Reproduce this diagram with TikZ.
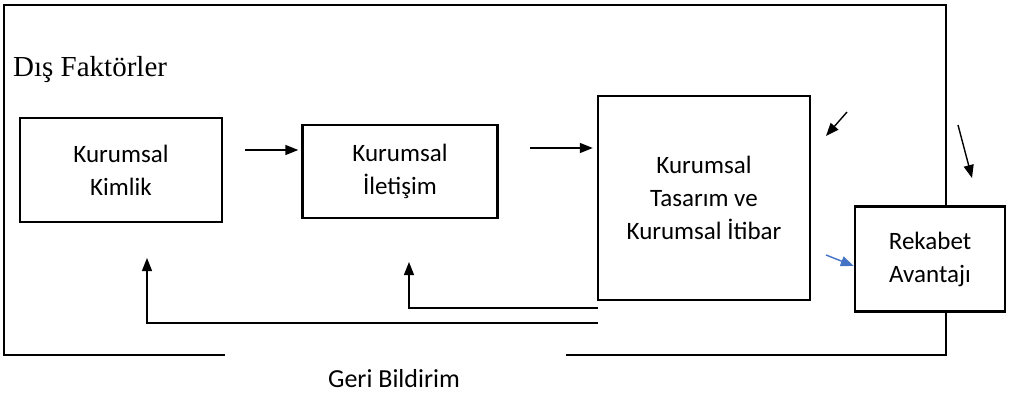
\documentclass[tikz,border=0pt]{standalone}
\usepackage{fontspec}
\setmainfont{Liberation Serif}
\newfontfamily\boxfont{Carlito}
\usetikzlibrary{arrows.meta}
\begin{document}
\begin{tikzpicture}[x=1pt,y=-1pt,
  blk/.style={draw,line width=2.4pt,align=center,font=\boxfont\fontsize{25}{33}\selectfont,inner sep=0pt},
  arr/.style={line width=1.4pt,-{Triangle[length=13pt,width=10pt]}},
  fb/.style={line width=1.4pt,-{Triangle[length=13pt,width=10pt]}},
  frame/.style={line width=2.4pt}]
\useasboundingbox (0,0) rectangle (1013,393);
% outer frame
\draw[frame] (225,355) -- (4,355) -- (4,5) -- (946,5) -- (946,205);
\draw[frame] (566,355) -- (946,355) -- (946,310);
\node[anchor=base west,font=\fontsize{29}{32}\selectfont,inner sep=0pt] (dis) at (13,77) {Dış Faktörler};
% boxes
\node[blk,minimum width=202pt,minimum height=104pt] (kim) at (121,170) {Kurumsal\\Kimlik};
\node[blk,minimum width=195pt,minimum height=93pt] (ilt) at (400,171.5) {Kurumsal\\İletişim};
\node[blk,minimum width=212pt,minimum height=204pt] (tas) at (704,198) {Kurumsal\\Tasarım ve\\Kurumsal İtibar};
\node[blk,minimum width=150pt,minimum height=105pt] (rek) at (930,259) {Rekabet\\Avantajı};
% arrows
\coordinate (a1s) at (245,150); \coordinate (a1e) at (ilt.west |- a1s);
\draw[arr,shorten >=3pt] (a1s) -- (a1e);
\coordinate (a2s) at (530,148); \coordinate (a2e) at (tas.west |- a2s);
\draw[arr,shorten >=4pt] (a2s) -- (a2e);
\coordinate (a3s) at (847,112); \coordinate (a3e) at (826,136);
\draw[arr] (a3s) -- (a3e);
\coordinate (a4s) at (958,125); \coordinate (a4e) at (972,178);
\draw[arr] (a4s) -- (a4e);
\coordinate (a5s) at (826,255); \coordinate (a5e) at (rek.west |- 0,266);
\draw[arr,draw={rgb,255:red,68;green,114;blue,196},color={rgb,255:red,68;green,114;blue,196}] (a5s) -- (a5e);
% feedback
\coordinate (f1s) at (598,323); \coordinate (f1e) at (147,258);
\draw[fb] (f1s) -- (f1e |- f1s) -- (f1e);
\coordinate (f2s) at (598,308); \coordinate (f2e) at (409,262);
\draw[fb] (f2s) -- (f2e |- f2s) -- (f2e);
\node[anchor=base,inner sep=0pt,font=\boxfont\fontsize{26}{28}\selectfont] (geri) at (394,387) {Geri Bildirim};
\end{tikzpicture}
\end{document}
